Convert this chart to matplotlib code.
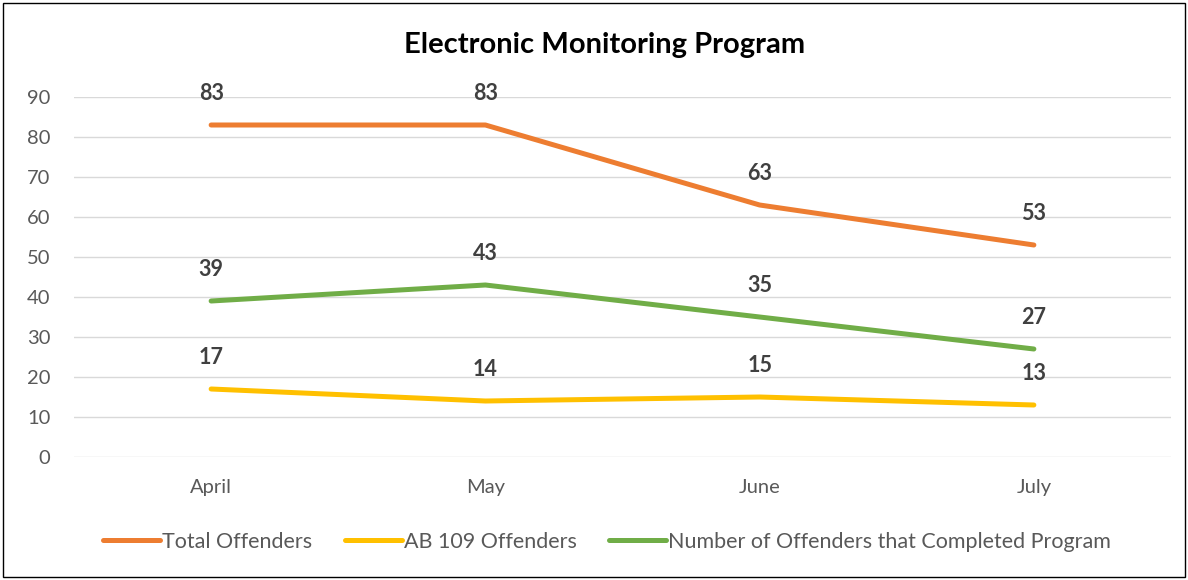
import matplotlib
matplotlib.use("Agg")
import matplotlib.pyplot as plt
from matplotlib.patches import Rectangle

months = ["April", "May", "June", "July"]
total_offenders = [83, 83, 63, 53]
ab109_offenders = [17, 14, 15, 13]
completed_program = [39, 43, 35, 27]
yticks = [0, 10, 20, 30, 40, 50, 60, 70, 80, 90]

plt.rcParams['font.family'] = ['Lato', 'DejaVu Sans']

fig = plt.figure(figsize=(11.88, 5.80), dpi=100)
ax = fig.add_axes([74/1188, 1-457/580, (1171-74)/1188, (457-97)/580])

series = [
    ("Total Offenders", total_offenders, "#ED7D31"),
    ("AB 109 Offenders", ab109_offenders, "#FFC000"),
    ("Number of Offenders that Completed Program", completed_program, "#70AD47"),
]
x = list(range(len(months)))
for label, vals, color in series:
    ax.plot(x, vals, color=color, lw=3.6, label=label, solid_capstyle='round',
            solid_joinstyle='round', zorder=3)
    for xi, v in zip(x, vals):
        ax.annotate(str(v), (xi, v), xytext=(0, 23), textcoords='offset points',
                    ha='center', va='center', fontsize=15.5, fontweight='bold', color='#404040')

ax.set_xlim(-0.5, len(months) - 0.5)
ax.set_ylim(0, 90)
ax.set_yticks(yticks)
ax.set_xticks(x)
ax.set_xticklabels(months)
ax.tick_params(axis='both', length=0, labelsize=14.5, colors='#595959')
ax.tick_params(axis='x', pad=16)
ax.tick_params(axis='y', pad=17)
ax.grid(axis='y', color='#D9D9D9', lw=1)
ax.set_axisbelow(True)
for s in ax.spines.values():
    s.set_visible(False)

fig.text(605/1188, 1-45/580, "Electronic Monitoring Program", ha='center', va='center',
         fontsize=21, fontweight='bold', color='black')

leg = fig.legend(loc='center', bbox_to_anchor=(607/1188, 1-542/580), ncol=3, frameon=False,
                 fontsize=15.5, handlelength=2.65, handletextpad=0.1, columnspacing=1.5)
for t in leg.get_texts():
    t.set_color('#595959')

fig.patches.append(Rectangle((3/1188, 3/580), 1182/1188, 574/580, transform=fig.transFigure,
                             fill=False, edgecolor='black', lw=1))

fig.savefig("out.png", dpi=100)
